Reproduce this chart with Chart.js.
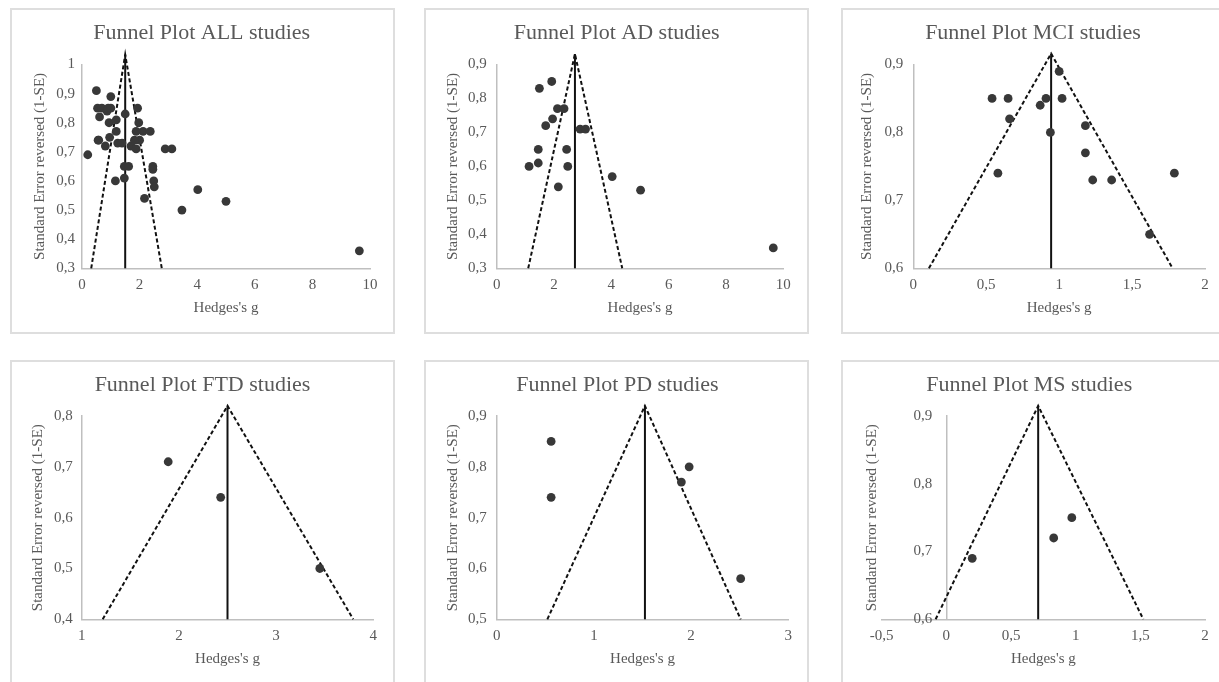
<!DOCTYPE html>
<html>
<head>
<meta charset="utf-8">
<script src="https://cdn.jsdelivr.net/npm/chart.js@4.4.1/dist/chart.umd.min.js"></script>
<style>
  html, body { margin: 0; padding: 0; background: #fff; overflow: hidden; width: 1219px; height: 682px; }
  .frame { position: absolute; box-sizing: border-box; border: 2px solid #dedede; }
  canvas { position: absolute; }
</style>
</head>
<body>
<div class="frame" id="f1"></div><div class="frame" id="f2"></div><div class="frame" id="f3"></div>
<div class="frame" id="f4"></div><div class="frame" id="f5"></div><div class="frame" id="f6"></div>
<canvas id="c1"></canvas><canvas id="c2"></canvas><canvas id="c3"></canvas>
<canvas id="c4"></canvas><canvas id="c5"></canvas><canvas id="c6"></canvas>
<script>
// studies: Hedges's g (x) and 1-SE (y)
const adX  = [1.13, 1.45, 1.45, 1.49, 1.92, 1.71, 1.95, 2.12, 2.35, 2.15, 2.44, 2.48, 2.91, 3.10, 4.03, 5.02, 9.65];
const adY  = [0.60, 0.61, 0.65, 0.83, 0.85, 0.72, 0.74, 0.77, 0.77, 0.54, 0.65, 0.60, 0.71, 0.71, 0.57, 0.53, 0.36];
const mciX = [0.54, 0.65, 0.66, 0.87, 0.91, 1.00, 1.02, 0.94, 1.18, 1.18, 0.58, 1.23, 1.36, 1.79, 1.62];
const mciY = [0.85, 0.85, 0.82, 0.84, 0.85, 0.89, 0.85, 0.80, 0.81, 0.77, 0.74, 0.73, 0.73, 0.74, 0.65];
const ftdX = [1.89, 2.43, 3.45];
const ftdY = [0.71, 0.64, 0.50];
const pdX  = [0.56, 0.56, 1.90, 1.98, 2.51];
const pdY  = [0.85, 0.74, 0.77, 0.80, 0.58];
const msX  = [0.20, 0.83, 0.97];
const msY  = [0.69, 0.72, 0.75];
const allX = [1.16, 1.47, 1.47, 1.50, 1.93, 1.70, 2.00, 2.12, 2.37, 2.17, 2.46, 2.49, 2.89, 3.12, 4.02, 5.00, 9.63,
              0.54, 0.69, 0.61, 0.87, 0.91, 1.00, 1.00, 0.94, 1.19, 1.19, 0.58, 1.24, 1.39, 1.82, 1.62,
              1.88, 2.46, 3.47, 0.50, 0.56, 1.88, 1.97, 2.51, 0.20, 0.81, 0.96];
const allY = [0.60, 0.61, 0.65, 0.83, 0.85, 0.72, 0.74, 0.77, 0.77, 0.54, 0.65, 0.60, 0.71, 0.71, 0.57, 0.53, 0.36,
              0.85, 0.85, 0.82, 0.84, 0.85, 0.89, 0.85, 0.80, 0.81, 0.77, 0.74, 0.73, 0.73, 0.74, 0.65,
              0.71, 0.64, 0.50, 0.91, 0.74, 0.77, 0.80, 0.58, 0.69, 0.72, 0.75];

// funnel: left foot, apex (pooled g), right foot
const allFunnelX = [0.32, 1.50, 2.77];  const allFunnelY = [0.3, 1.034, 0.3];
const adFunnelX  = [1.10, 2.73, 4.38];  const adFunnelY  = [0.3, 0.931, 0.3];
const mciFunnelX = [0.107, 0.945, 1.778]; const mciFunnelY = [0.6, 0.916, 0.6];
const ftdFunnelX = [1.216, 2.50, 3.794]; const ftdFunnelY = [0.4, 0.82, 0.4];
const pdFunnelX  = [0.521, 1.525, 2.51]; const pdFunnelY  = [0.5, 0.92, 0.5];
const msFunnelX  = [-0.083, 0.71, 1.523]; const msFunnelY = [0.6, 0.915, 0.6];

const SERIF = "'Liberation Serif', 'Times New Roman', serif";
const TXT = '#595959';

function pts(xs, ys) { return xs.map((x, i) => ({ x: x, y: ys[i] })); }
function fmt(v) {
  const r = Math.round(v * 10) / 10;
  return Number.isInteger(r) ? String(r) : r.toFixed(1).replace('.', ',');
}

function makePanel(p) {
  const [bx, by, bw, bh] = p.box;
  const [al, at, ar, ab] = p.area;
  const f = document.getElementById(p.frame);
  f.style.left = bx + 'px'; f.style.top = by + 'px'; f.style.width = bw + 'px'; f.style.height = bh + 'px';
  const cv = document.getElementById(p.id);
  cv.width = bw; cv.height = bh;
  cv.style.left = bx + 'px'; cv.style.top = by + 'px';

  const padR = bx + bw - ar;
  const padL = 2 * (p.titleCX - bx) - bw + padR;
  const tTop = p.titleY - by - 13.2;
  const tBot = (at - by) - tTop - 26.4;

  const tickFont = { family: SERIF, size: 15 };
  const yTicks = { stepSize: 0.1, callback: fmt, color: TXT, font: tickFont, padding: p.yGap };
  if (p.yAt !== undefined) {
    // vertical axis crosses at x = yAt: put the labels inside, right-aligned left of it
    const ctx = cv.getContext('2d');
    ctx.font = '15px ' + SERIF;
    const widest = ctx.measureText(fmt(p.yMax)).width;
    const zeroPx = al + (p.yAt - p.xMin) / (p.xMax - p.xMin) * (ar - al);
    yTicks.mirror = true;
    yTicks.crossAlign = 'far';
    yTicks.padding = zeroPx - p.yGap - al - widest;
  }

  const scales = {
    x: {
      type: 'linear', min: p.xMin, max: p.xMax,
      ticks: { stepSize: p.xStep, callback: fmt, color: TXT, font: tickFont, padding: 8, maxRotation: 0, autoSkip: false },
      grid: { display: false, drawTicks: false },
      border: { color: '#bfbfbf', width: 1.5 },
      title: { display: true, text: "Hedges's g", color: TXT, font: { family: SERIF, size: 15 },
               padding: { top: 0, bottom: (by + bh) - p.xTitleY - 9 } },
      afterFit: s => { s.height = by + bh - ab; }
    },
    y: {
      type: 'linear', position: 'left', min: p.yMin, max: p.yMax,
      ticks: yTicks,
      grid: { display: false, drawTicks: false },
      border: { display: p.yAt === undefined, color: '#bfbfbf', width: 1.5 },
      title: { display: true, text: 'Standard Error reversed (1-SE)', color: TXT, font: { family: SERIF, size: 15 },
               padding: { top: p.yTitleX - (bx + padL) - 9, bottom: 0 } },
      afterFit: s => { s.width = al - bx - padL; }
    }
  };
  if (p.yAt !== undefined) {
    scales.y0 = {
      type: 'linear', position: { x: p.yAt }, min: p.yMin, max: p.yMax,
      ticks: { display: false },
      grid: { display: false, drawTicks: false },
      border: { color: '#bfbfbf', width: 1.5 }
    };
  }

  new Chart(cv, {
    type: 'scatter',
    data: {
      datasets: [
        { data: pts(p.xs, p.ys), pointRadius: 4.4, pointBackgroundColor: '#383838', pointBorderWidth: 0 },
        { data: [{ x: p.fx[1], y: p.fy[0] }, { x: p.fx[1], y: p.fy[1] }], showLine: true,
          borderColor: '#111', borderWidth: 2, pointRadius: 0, clip: false },
        { data: pts(p.fx, p.fy), showLine: true, borderColor: '#111', borderWidth: 2,
          borderDash: [4, 2.5], pointRadius: 0, clip: false }
      ]
    },
    options: {
      responsive: false, animation: false,
      layout: { padding: { left: padL, right: padR, top: 0, bottom: 0 } },
      plugins: {
        legend: { display: false }, tooltip: { enabled: false },
        title: { display: true, text: p.title, color: TXT,
                 font: { family: SERIF, size: 22, weight: 'normal', lineHeight: 1.2 },
                 padding: { top: tTop, bottom: tBot } }
      },
      scales: scales
    }
  });
}

const panels = [
  { id: 'c1', frame: 'f1', title: 'Funnel Plot ALL studies', xs: allX, ys: allY, fx: allFunnelX, fy: allFunnelY,
    xMin: 0, xMax: 10, xStep: 2, yMin: 0.3, yMax: 1.0, yGap: 7,
    box: [10, 8, 385, 326], area: [82, 64.5, 370, 268.3], titleY: 33.3, titleCX: 201.7, yTitleX: 40, xTitleY: 308 },
  { id: 'c2', frame: 'f2', title: 'Funnel Plot AD studies', xs: adX, ys: adY, fx: adFunnelX, fy: adFunnelY,
    xMin: 0, xMax: 10, xStep: 2, yMin: 0.3, yMax: 0.9, yGap: 10,
    box: [424, 8, 385, 326], area: [496.7, 64.5, 783.3, 268.3], titleY: 33.3, titleCX: 616.7, yTitleX: 453, xTitleY: 308 },
  { id: 'c3', frame: 'f3', title: 'Funnel Plot MCI studies', xs: mciX, ys: mciY, fx: mciFunnelX, fy: mciFunnelY,
    xMin: 0, xMax: 2, xStep: 0.5, yMin: 0.6, yMax: 0.9, yGap: 10,
    box: [841, 8, 385, 326], area: [913.3, 64.5, 1205, 268.3], titleY: 33.3, titleCX: 1033, yTitleX: 866.7, xTitleY: 308 },
  { id: 'c4', frame: 'f4', title: 'Funnel Plot FTD studies', xs: ftdX, ys: ftdY, fx: ftdFunnelX, fy: ftdFunnelY,
    xMin: 1, xMax: 4, xStep: 1, yMin: 0.4, yMax: 0.8, yGap: 9,
    box: [10, 360, 385, 330], area: [81.7, 416, 373.3, 619.3], titleY: 385, titleCX: 202.5, yTitleX: 38, xTitleY: 659 },
  { id: 'c5', frame: 'f5', title: 'Funnel Plot PD studies', xs: pdX, ys: pdY, fx: pdFunnelX, fy: pdFunnelY,
    xMin: 0, xMax: 3, xStep: 1, yMin: 0.5, yMax: 0.9, yGap: 10,
    box: [424, 360, 385, 330], area: [496.7, 416, 788.3, 619.3], titleY: 385, titleCX: 617.5, yTitleX: 453, xTitleY: 659 },
  { id: 'c6', frame: 'f6', title: 'Funnel Plot MS studies', xs: msX, ys: msY, fx: msFunnelX, fy: msFunnelY,
    xMin: -0.5, xMax: 2, xStep: 0.5, yMin: 0.6, yMax: 0.9, yAt: 0, yGap: 14,
    box: [841, 360, 385, 330], area: [881.7, 416, 1205, 619.3], titleY: 385, titleCX: 1029.2, yTitleX: 871.7, xTitleY: 659 }
];

panels.forEach(makePanel);
</script>
</body>
</html>
